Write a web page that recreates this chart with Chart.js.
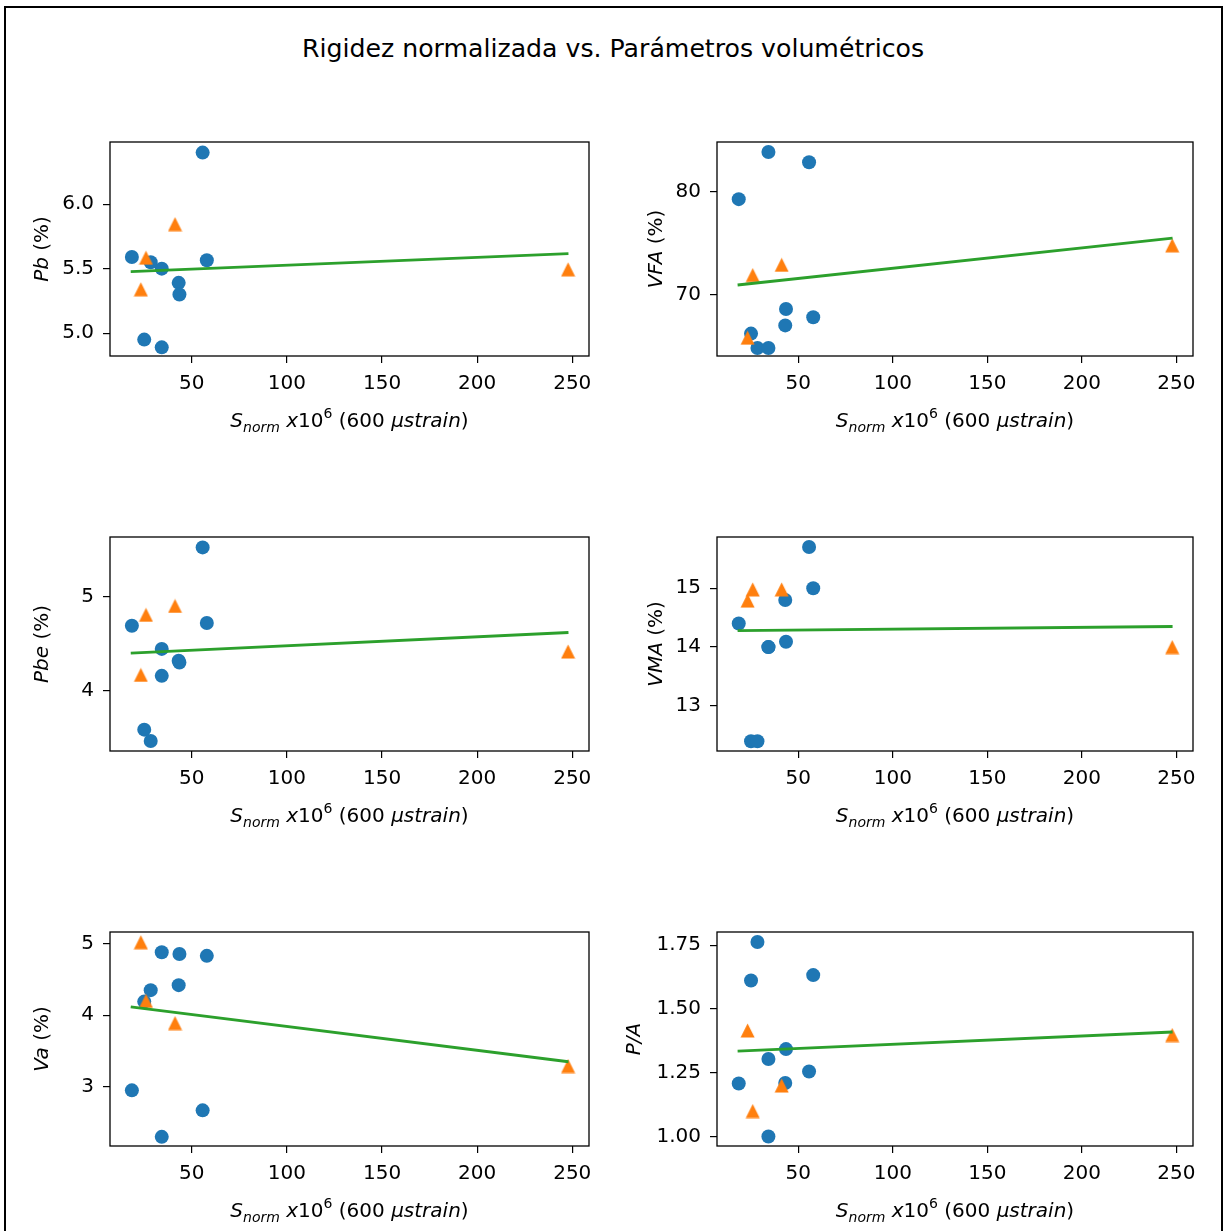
<!DOCTYPE html>
<html>
<head>
<meta charset="utf-8">
<script src="https://cdn.jsdelivr.net/npm/chart.js@4.4.0/dist/chart.umd.min.js"></script>
<style>
  body { margin: 0; background: #fff; width: 1226px; height: 1231px; overflow: hidden; position: relative; }
  #frame { position: absolute; left: 4px; top: 6px; width: 1219px; height: 1300px; border: 2px solid #000; box-sizing: border-box; }
  #title { position: absolute; left: 0; width: 1226px; top: 36px; text-align: center;
           font: 25.2px "DejaVu Sans"; line-height: 25px; color: #000; }
  canvas { position: absolute; }
</style>
</head>
<body>
<div id="frame"></div>
<div id="title">Rigidez normalizada vs. Parámetros volumétricos</div>
<canvas id="c1" width="610" height="312" style="left:0px;top:130px"></canvas>
<canvas id="c2" width="610" height="312" style="left:610px;top:130px"></canvas>
<canvas id="c3" width="610" height="312" style="left:0px;top:525px"></canvas>
<canvas id="c4" width="610" height="312" style="left:610px;top:525px"></canvas>
<canvas id="c5" width="610" height="312" style="left:0px;top:920px"></canvas>
<canvas id="c6" width="610" height="312" style="left:610px;top:920px"></canvas>
<script>
// S_norm values (x) shared by all panels
var blueX = [18.5, 25.0, 28.4, 34.2, 34.2, 43.1, 43.5, 55.7, 57.9];
var orangeX = [23.2, 25.9, 41.2, 247.8];
var fitX = [17.9, 248.0];
var xTicks = [50, 100, 150, 200, 250];
var xRange = [7.0, 258.8];

// Pb
var pbBlue = [5.59, 4.95, 5.55, 5.50, 4.89, 5.39, 5.30, 6.40, 5.565];
var pbOrange = [5.34, 5.585, 5.845, 5.495];
var pbFit = [5.477, 5.617];
var pbTicks = [5.0, 5.5, 6.0];
var pbRange = [4.823, 6.482];

// VFA
var vfaBlue = [79.3, 66.2, 64.8, 83.9, 64.8, 67.0, 68.6, 82.9, 67.8];
var vfaOrange = [65.8, 71.9, 72.9, 74.8];
var vfaFit = [70.94, 75.5];
var vfaTicks = [70, 80];
var vfaRange = [64.02, 84.87];

// Pbe
var pbeBlue = [4.69, 3.59, 3.47, 4.445, 4.16, 4.32, 4.30, 5.52, 4.72];
var pbeOrange = [4.17, 4.806, 4.90, 4.417];
var pbeFit = [4.40, 4.618];
var pbeTicks = [4, 5];
var pbeRange = [3.364, 5.63];

// VMA
var vmaBlue = [14.4, 12.4, 12.4, 14.0, 14.0, 14.8, 14.09, 15.7, 15.0];
var vmaOrange = [14.79, 14.98, 14.98, 14.0];
var vmaFit = [14.28, 14.35];
var vmaTicks = [13, 14, 15];
var vmaRange = [12.235, 15.87];

// Va
var vaBlue = [2.95, 4.19, 4.35, 4.88, 2.30, 4.42, 4.855, 2.67, 4.83];
var vaOrange = [5.02, 4.20, 3.89, 3.29];
var vaFit = [4.116, 3.35];
var vaTicks = [3, 4, 5];
var vaRange = [2.172, 5.163];

// P/A
var paBlue = [1.208, 1.612, 1.763, 1.304, 1.00, 1.21, 1.343, 1.255, 1.633];
var paOrange = [1.416, 1.10, 1.20, 1.398];
var paFit = [1.335, 1.41];
var paTicks = [1.00, 1.25, 1.50, 1.75];
var paRange = [0.963, 1.802];

var FONT = '"DejaVu Sans"';
Chart.defaults.color = '#000';
Chart.defaults.font.family = FONT;
Chart.defaults.font.size = 20;

// matplotlib style '^' marker
var tri = document.createElement('canvas');
tri.width = 15; tri.height = 15;
(function () {
    var t = tri.getContext('2d');
    t.fillStyle = '#ff7f0e';
    t.beginPath();
    t.moveTo(7.5, 0.5); t.lineTo(0.5, 14.5); t.lineTo(14.5, 14.5);
    t.closePath();
    t.fill();
})();

function pts(xs, ys) {
    var out = [];
    for (var i = 0; i < xs.length; i++) out.push({x: xs[i], y: ys[i]});
    return out;
}

function drawRich(ctx, parts, x, y, rotate) {
    var total = 0;
    parts.forEach(function (p) {
        ctx.font = (p.it ? 'italic ' : '') + (p.size || 20) + 'px ' + FONT;
        p.w = ctx.measureText(p.t).width;
        total += p.w;
    });
    ctx.save();
    ctx.translate(x, y);
    if (rotate) ctx.rotate(-Math.PI / 2);
    ctx.fillStyle = '#000';
    ctx.textBaseline = 'alphabetic';
    ctx.textAlign = 'left';
    var cx = -total / 2;
    parts.forEach(function (p) {
        ctx.font = (p.it ? 'italic ' : '') + (p.size || 20) + 'px ' + FONT;
        ctx.fillText(p.t, cx, p.dy || 0);
        cx += p.w;
    });
    ctx.restore();
}

var xTitle = [
    {t: 'S', it: true},
    {t: 'norm', it: true, size: 14, dy: 4.5},
    {t: ' x', it: true},
    {t: '10'},
    {t: '6', size: 14, dy: -8.8},
    {t: ' (600 '},
    {t: '\u03bcstrain', it: true},
    {t: ')'}
];

var frameAndLabels = {
    id: 'frameAndLabels',
    afterDraw: function (chart) {
        var a = chart.chartArea, ctx = chart.ctx;
        ctx.save();
        ctx.strokeStyle = '#000';
        ctx.lineWidth = 1.3;
        ctx.strokeRect(a.left, a.top, a.right - a.left, a.bottom - a.top);
        ctx.restore();
        var o = chart.options.plugins.frameAndLabels;
        drawRich(ctx, xTitle, (a.left + a.right) / 2, a.bottom + 71, false);
        drawRich(ctx, o.yLabel, a.left - o.yOff, (a.top + a.bottom) / 2, true);
    }
};

function makeChart(id, blue, orange, fit, yTicks, yRange, dec, yLabel, yOff, right) {
    new Chart(document.getElementById(id), {
        type: 'scatter',
        data: {
            datasets: [
                {
                    type: 'line',
                    data: pts(fitX, fit),
                    borderColor: '#2ca02c',
                    borderWidth: 2.9,
                    pointRadius: 0,
                    fill: false,
                    order: 0
                },
                {
                    data: pts(orangeX, orange),
                    pointStyle: tri,
                    backgroundColor: '#ff7f0e',
                    borderColor: '#ff7f0e',
                    order: 1
                },
                {
                    data: pts(blueX, blue),
                    pointStyle: 'circle',
                    pointRadius: 7,
                    pointBorderWidth: 0,
                    backgroundColor: '#1f77b4',
                    borderColor: '#1f77b4',
                    order: 2
                }
            ]
        },
        options: {
            responsive: false,
            animation: false,
            events: [],
            layout: {padding: {left: 0, right: right ? 27 : 21, top: 12, bottom: 0}},
            plugins: {
                legend: {display: false},
                tooltip: {enabled: false},
                frameAndLabels: {yLabel: yLabel, yOff: yOff}
            },
            scales: {
                x: {
                    type: 'linear',
                    min: xRange[0], max: xRange[1],
                    border: {display: false},
                    grid: {drawOnChartArea: false, drawTicks: true, tickLength: 7, color: '#000', lineWidth: 1.2},
                    ticks: {padding: 9, maxRotation: 0, callback: function (v) { return String(v); }},
                    afterBuildTicks: function (s) { s.ticks = xTicks.map(function (v) { return {value: v}; }); },
                    afterFit: function (s) { s.height = 86; s.paddingLeft = 0; s.paddingRight = 0; }
                },
                y: {
                    type: 'linear',
                    min: yRange[0], max: yRange[1],
                    border: {display: false},
                    grid: {drawOnChartArea: false, drawTicks: true, tickLength: 7, color: '#000', lineWidth: 1.2},
                    ticks: {padding: 9, callback: function (v) { return v.toFixed(dec); }},
                    afterBuildTicks: function (s) { s.ticks = yTicks.map(function (v) { return {value: v}; }); },
                    afterFit: function (s) { s.width = right ? 107 : 110; s.paddingTop = 0; s.paddingBottom = 0; }
                }
            }
        },
        plugins: [frameAndLabels]
    });
}

var pct = {t: ' (%)'};
makeChart('c1', pbBlue, pbOrange, pbFit, pbTicks, pbRange, 1, [{t: 'Pb', it: true}, pct], 62, false);
makeChart('c2', vfaBlue, vfaOrange, vfaFit, vfaTicks, vfaRange, 0, [{t: 'VFA', it: true}, pct], 55, true);
makeChart('c3', pbeBlue, pbeOrange, pbeFit, pbeTicks, pbeRange, 0, [{t: 'Pbe', it: true}, pct], 62, false);
makeChart('c4', vmaBlue, vmaOrange, vmaFit, vmaTicks, vmaRange, 0, [{t: 'VMA', it: true}, pct], 55, true);
makeChart('c5', vaBlue, vaOrange, vaFit, vaTicks, vaRange, 0, [{t: 'Va', it: true}, pct], 62, false);
makeChart('c6', paBlue, paOrange, paFit, paTicks, paRange, 2, [{t: 'P/A', it: true}], 77, true);
</script>
</body>
</html>
